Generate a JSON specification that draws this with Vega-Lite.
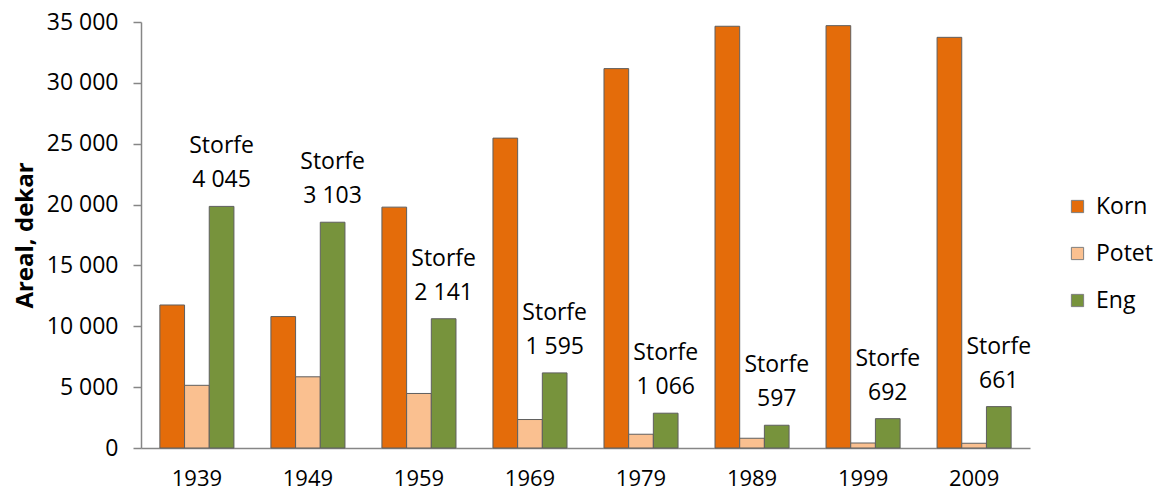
{
  "$schema": "https://vega.github.io/schema/vega-lite/v6.json",
  "width": 889,
  "height": 426,
  "autosize": {"type": "none"},
  "padding": {"left": 141, "top": 22, "right": 125, "bottom": 44},
  "background": "white",
  "config": {
    "view": {"stroke": null},
    "font": "Open Sans",
    "locale": {"number": {"decimal": ",", "thousands": " ", "grouping": [3], "currency": ["", " kr"]}}
  },
  "data": {
    "values": [
      {"year": "1939", "crop": "Korn", "area": 11750, "storfe": 4045},
      {"year": "1939", "crop": "Potet", "area": 5150, "storfe": 4045},
      {"year": "1939", "crop": "Eng", "area": 19850, "storfe": 4045},
      {"year": "1949", "crop": "Korn", "area": 10800, "storfe": 3103},
      {"year": "1949", "crop": "Potet", "area": 5850, "storfe": 3103},
      {"year": "1949", "crop": "Eng", "area": 18550, "storfe": 3103},
      {"year": "1959", "crop": "Korn", "area": 19790, "storfe": 2141},
      {"year": "1959", "crop": "Potet", "area": 4480, "storfe": 2141},
      {"year": "1959", "crop": "Eng", "area": 10620, "storfe": 2141},
      {"year": "1969", "crop": "Korn", "area": 25460, "storfe": 1595},
      {"year": "1969", "crop": "Potet", "area": 2340, "storfe": 1595},
      {"year": "1969", "crop": "Eng", "area": 6170, "storfe": 1595},
      {"year": "1979", "crop": "Korn", "area": 31170, "storfe": 1066},
      {"year": "1979", "crop": "Potet", "area": 1130, "storfe": 1066},
      {"year": "1979", "crop": "Eng", "area": 2860, "storfe": 1066},
      {"year": "1989", "crop": "Korn", "area": 34650, "storfe": 597},
      {"year": "1989", "crop": "Potet", "area": 800, "storfe": 597},
      {"year": "1989", "crop": "Eng", "area": 1870, "storfe": 597},
      {"year": "1999", "crop": "Korn", "area": 34700, "storfe": 692},
      {"year": "1999", "crop": "Potet", "area": 410, "storfe": 692},
      {"year": "1999", "crop": "Eng", "area": 2410, "storfe": 692},
      {"year": "2009", "crop": "Korn", "area": 33740, "storfe": 661},
      {"year": "2009", "crop": "Potet", "area": 390, "storfe": 661},
      {"year": "2009", "crop": "Eng", "area": 3400, "storfe": 661}
    ]
  },
  "encoding": {
    "x": {
      "field": "year", "type": "nominal", "title": null,
      "scale": {"paddingInner": 0.333, "paddingOuter": 0.17},
      "axis": {
        "labelAngle": 0, "labelFontSize": 22, "labelColor": "black", "labelFont": "Open Sans",
        "ticks": false, "labelPadding": 20, "domainColor": "#868686", "domainWidth": 1.5
      }
    },
    "xOffset": {"field": "crop", "type": "nominal", "sort": ["Korn", "Potet", "Eng"], "scale": {"paddingInner": 0}},
    "y": {
      "field": "area", "type": "quantitative", "title": "Areal, dekar",
      "scale": {"domain": [0, 35000], "nice": false},
      "axis": {
        "values": [0, 5000, 10000, 15000, 20000, 25000, 30000, 35000],
        "labelExpr": "replace(format(datum.value, ','), /,/g, ' ')",
        "labelFontSize": 23, "labelColor": "black", "labelFont": "Open Sans", "labelPadding": 15,
        "tickSize": 8, "tickColor": "#868686", "tickWidth": 1.5,
        "domainColor": "#868686", "domainWidth": 1.5, "grid": false,
        "titleFontSize": 24, "titleFontWeight": "bold", "titleFont": "Open Sans", "titleColor": "black", "titlePadding": 9
      }
    }
  },
  "layer": [
    {
      "mark": {"type": "bar", "stroke": "#5f5f5f", "strokeWidth": 1},
      "encoding": {
        "color": {
          "field": "crop", "type": "nominal", "sort": ["Korn", "Potet", "Eng"], "title": null,
          "scale": {"domain": ["Korn", "Potet", "Eng"], "range": ["#E46C0A", "#FAC090", "#77933C"]},
          "legend": {
            "orient": "none", "legendX": 925, "legendY": 173, "padding": 0,
            "symbolType": "square", "symbolSize": 150, "symbolStrokeColor": "#7f7f7f", "symbolStrokeWidth": 1,
            "labelFontSize": 23, "labelFont": "Open Sans", "labelColor": "black", "labelOffset": 7,
            "rowPadding": 23
          }
        }
      }
    },
    {
      "transform": [{"filter": "datum.crop == 'Eng'"}],
      "mark": {"type": "text", "text": "Storfe", "fontSize": 23, "font": "Open Sans", "baseline": "middle", "dy": -60, "color": "black"}
    },
    {
      "transform": [{"filter": "datum.crop == 'Eng'"}],
      "mark": {"type": "text", "fontSize": 23, "font": "Open Sans", "baseline": "middle", "dy": -26, "color": "black"},
      "encoding": {"text": {"field": "storfe", "type": "quantitative", "format": ",d"}}
    }
  ]
}
